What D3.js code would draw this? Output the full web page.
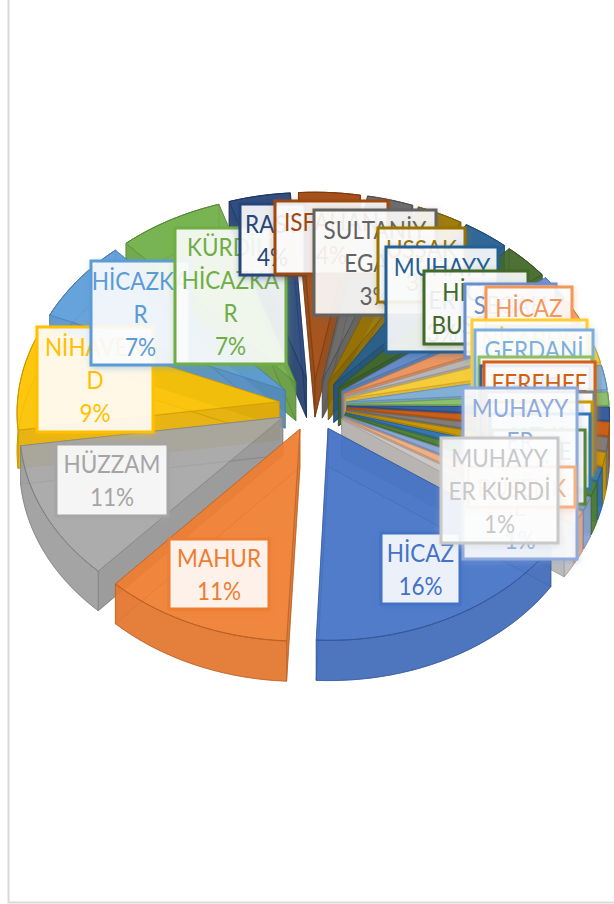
<!DOCTYPE html>
<html><head><meta charset="utf-8">
<script src="https://cdn.jsdelivr.net/npm/d3@7"></script>
<style>html,body{margin:0;padding:0;background:#fff;overflow:hidden}svg{display:block}</style>
</head><body><svg id="c" width="614" height="904"></svg>
<script>
// DATA
const categories = ["HİCAZ","MAHUR","HÜZZAM","NİHAVEND","HİCAZKAR","KÜRDİLİ HİCAZKAR","RAST","ISFAHAN","SULTANİYEGAH","UŞŞAK","MUHAYYER","HİCAZ BUSELİK","SEGAH","HİCAZ HÜMAYUN","SABA","NİŞABUR","GERDANİ","ACEMAŞİRAN","EVİÇ","FEREHFEZA","ARABAN","KÜRDİ","NEVA","BESTENİGAR","MUHAYYER SÜNBÜLE","BUSELİK","MUHAYYER KÜRDİ"];
const shares = [16,11,11,8.6,6.8,6.8,4,4,3,3,3,3,2,2,1.07,2,2,1.07,1.07,1.07,1.07,1.07,1.07,1.07,1.07,1.07,1.07];
const labelLines = [["HİCAZ","16%"],["MAHUR","11%"],["HÜZZAM","11%"],["NİHAVEN","D","9%"],["HİCAZKA","R","7%"],["KÜRDİLİ","HİCAZKA","R","7%"],["RAST","4%"],["ISFAHAN","4%"],["SULTANİY","EGAH","3%"],["UŞŞAK","3%"],["MUHAYY","ER","3%"],["HİCAZ","BUSELİK"],["SEGAH","2%"],["HİCAZ","2%"],["SABA","1%"],["NİŞABUR","2%"],["GERDANİ","2%"],["ACEM","1%"],["EVİÇ","1%"],["FEREHFE","ZA","1%"],["ARABAN","1%"],["KÜRDİ","1%"],["NEVA","1%"],["BESTE","1%"],["MUHAYY","ER","SÜNBÜL","E","1%"],["BUSELİK"],["MUHAYY","ER KÜRDİ","1%"]];
const palette = ["#4472C4","#ED7D31","#A5A5A5","#FFC000","#5B9BD5","#70AD47","#264478","#9E480E","#636363","#997300","#255E91","#43682B","#698ED0","#F1975A","#B7B7B7","#FFCD33","#7CAFDD","#8CC168","#335AA1","#D26012","#7E7E7E","#CC9A00","#2F75B5","#548235","#8FAADC","#F4B183","#C9C9C9"];
// LAYOUT of the data-label boxes: x0,y0,x1,y1
const labelBoxes = [[381,533,460,604],[169,539,269,609],[56,444,168,516],[37,327,153,432],[91,261,190,365],[175,228,286,364],[240,204,305,275],[275,201,388,274],[314,210,436,315],[378,228,465,302],[386,247,498,352],[424,271,528,344],[465,284,556,357],[486,287,572,360],[490,326,570,386],[472,320,587,392],[475,330,593,402],[479,357,592,430],[481,366,590,438],[484,362,595,468],[486,392,594,465],[488,402,592,475],[490,414,590,489],[492,430,585,504],[463,388,577,559],[468,467,575,507],[441,438,558,543]];

const W=614,H=904;
const cx=313, cy=405, Rx=262, Ry=199, P=0.05, E=0.13, depth=38;
const rot=125*Math.PI/180;
const project=(u,v,z)=>{const d=1+P*v;return [cx+u*Rx/d, cy-v*Ry/d+z*depth/d];};
const svg=d3.select("#c");
const defs=svg.append("defs");
palette.forEach((c,i)=>{
  const f=defs.append("filter").attr("id","sh"+i).attr("x","-20%").attr("y","-20%").attr("width","150%").attr("height","150%");
  f.append("feDropShadow").attr("dx",1).attr("dy",2).attr("stdDeviation",3).attr("flood-color",c).attr("flood-opacity",0.4);
});

svg.append("path").attr("d",`M8.5,0V902.5H${W}`).attr("fill","none").attr("stroke","#d9d9d9").attr("stroke-width",2);

const arcs=d3.pie().sort(null).startAngle(rot).endAngle(rot+2*Math.PI)(shares);
const line=d3.line();
const slices=arcs.map((a,i)=>{const m=(a.startAngle+a.endAngle)/2;return {a,i,m,du:E*Math.sin(m),dv:E*Math.cos(m)};});
slices.sort((p,q)=>Math.cos(q.m)-Math.cos(p.m));
const gPie=svg.append("g");
slices.forEach(s=>{
  const col=palette[s.i], dark=d3.color(col).darker(0.3).formatHex(), edge=d3.color(col).darker(0.7).formatHex();
  const n=Math.max(3,Math.ceil((s.a.endAngle-s.a.startAngle)/0.04));
  const angs=d3.range(n+1).map(k=>s.a.startAngle+(s.a.endAngle-s.a.startAngle)*k/n);
  const pt=(r,t,z)=>project(s.du+r*Math.sin(t),s.dv+r*Math.cos(t),z);
  const rim=z=>angs.map(t=>pt(1,t,z));
  const face=z=>line([pt(0,0,z),...rim(z)])+"Z";
  const g=gPie.append("g").attr("stroke",edge).attr("stroke-width",1).attr("stroke-opacity",0.6).attr("stroke-linejoin","round");
  g.append("path").attr("d",face(1)).attr("fill",dark).attr("fill-opacity",0.7);
  [s.a.startAngle,s.a.endAngle].forEach(t=>{
    g.append("path").attr("d",line([pt(0,t,0),pt(1,t,0),pt(1,t,1),pt(0,t,1)])+"Z").attr("fill",dark).attr("fill-opacity",0.75);
  });
  g.append("path").attr("d",line([...rim(0),...rim(1).reverse()])+"Z").attr("fill",d3.color(col).darker(0.1).formatHex()).attr("fill-opacity",0.78);
  g.append("path").attr("d",face(0)).attr("fill",d3.color(col).brighter(0.08).formatHex()).attr("fill-opacity",0.76);
  g.append("path").attr("d",line(rim(0))).attr("fill","none").attr("stroke-opacity",0.95);
});
const gLab=svg.append("g").attr("font-family","Lato, 'Open Sans', sans-serif").attr("font-size",24.5);
categories.forEach((c,i)=>{
  const [x0,y0,x1,y1]=labelBoxes[i], col=palette[i], lines=labelLines[i];
  const g=gLab.append("g").attr("data-category",c);
  g.append("rect").attr("x",x0).attr("y",y0).attr("width",x1-x0).attr("height",y1-y0)
   .attr("fill","#fff").attr("fill-opacity",0.87).attr("stroke",col).attr("stroke-width",3).attr("filter",`url(#sh${i})`);
  const lh=33, top=(y0+y1)/2-lh*lines.length/2;
  lines.forEach((t,k)=>{
    g.append("text").attr("transform",`translate(${(x0+x1)/2},${top+lh*k+lh*0.74+2}) scale(0.92,1)`).attr("text-anchor","middle").attr("fill",col).text(t);
  });
});
</script></body></html>
